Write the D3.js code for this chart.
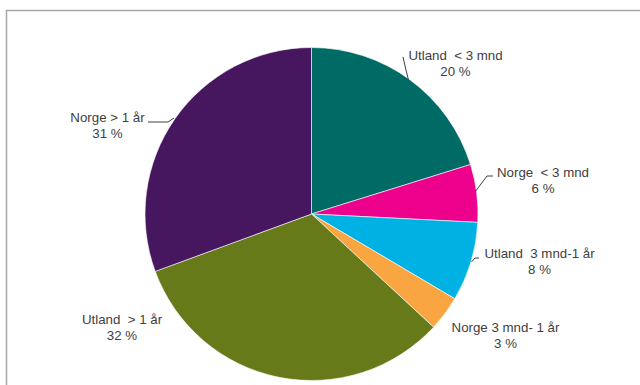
<!DOCTYPE html>
<html><head><meta charset="utf-8">
<script src="https://cdn.jsdelivr.net/npm/d3@7"></script>
<style>
html,body{margin:0;padding:0;background:#fff;}
svg{display:block;}
text{font-family:"Liberation Sans",Arial,sans-serif;font-size:13.3px;fill:#404040;white-space:pre;}
</style></head>
<body>
<svg id="chart" width="640" height="385"></svg>
<script>
// Data (clockwise from 12 o'clock)
const categories = ["Utland  < 3 mnd", "Norge  < 3 mnd", "Utland  3 mnd-1 år", "Norge 3 mnd- 1 år", "Utland  > 1 år", "Norge > 1 år"];
const values = [20.2, 5.6, 7.7, 3.4, 32.5, 30.6];
const percentLabels = ["20 %", "6 %", "8 %", "3 %", "32 %", "31 %"];
const colors = ["#006b64", "#ec008c", "#00b2e3", "#f9a541", "#677a1a", "#46165f"];

// Layout
const cx = 311.5, cy = 214, R = 166.5;
const labelPos = [[455.5, 55], [543, 172], [539.5, 253], [505.5, 327], [122, 319], [107.5, 117]];
const leaders = [
  [[403, 57], [405.5, 68], [408.5, 80]],
  [[493, 176], [487, 176], [475, 192]],
  [[479, 258], [475, 258], [471.5, 262]],
  null,
  null,
  [[148, 122], [168, 122], [174, 118]]
];

const svg = d3.select("#chart");

// frame
svg.append("rect").attr("x", 6.5).attr("y", 10.5).attr("width", 700).attr("height", 400)
  .attr("fill", "none").attr("stroke", "#a8a8a8").attr("stroke-width", 1.5);

const pie = d3.pie().sort(null).value(d => d);
const arc = d3.arc().innerRadius(0).outerRadius(R);
const arcs = pie(values);

const g = svg.append("g").attr("transform", `translate(${cx},${cy})`);
g.selectAll("path").data(arcs).join("path")
  .attr("d", arc)
  .attr("fill", (d, i) => colors[i])
  .attr("stroke", "#ffffff")
  .attr("stroke-width", 0.6);

// leader lines
const line = d3.line();
svg.selectAll("path.leader").data(leaders.filter(d => d)).join("path")
  .attr("class", "leader")
  .attr("d", d => line(d))
  .attr("fill", "none").attr("stroke", "#404040").attr("stroke-width", 1);

// labels
const lbl = svg.selectAll("g.lbl").data(categories).join("g").attr("class", "lbl")
  .attr("transform", (d, i) => `translate(${labelPos[i][0]},${labelPos[i][1]})`);
lbl.append("text").attr("text-anchor", "middle").attr("dy", "0.35em").text(d => d);
lbl.append("text").attr("text-anchor", "middle").attr("y", 16.5).attr("dy", "0.35em").text((d, i) => percentLabels[i]);
</script>
</body></html>
